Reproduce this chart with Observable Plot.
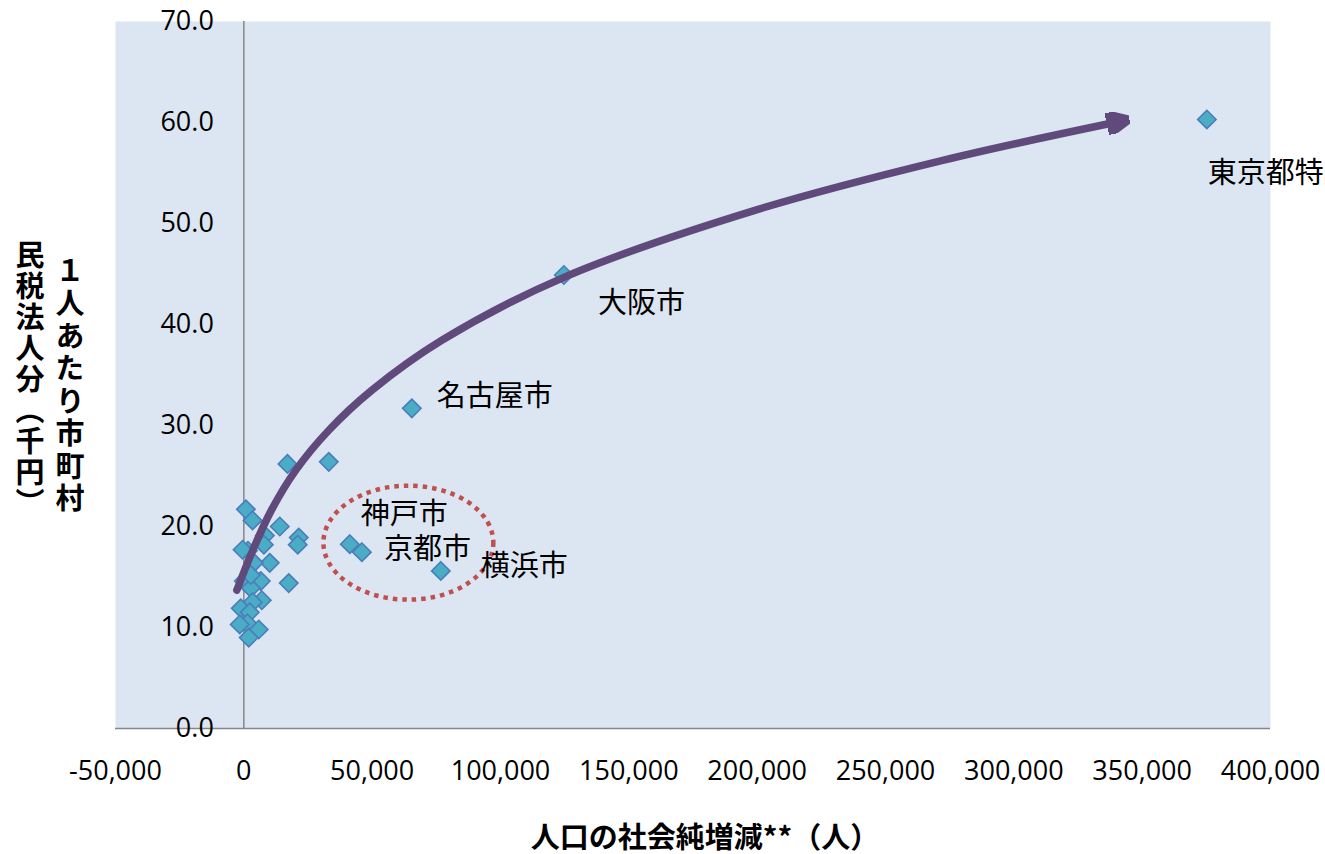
<!DOCTYPE html>
<html>
<head>
<meta charset="utf-8">
<script src="https://cdn.jsdelivr.net/npm/d3@7"></script>
<script src="https://cdn.jsdelivr.net/npm/@observablehq/plot@0.6"></script>
<style>
  html, body { margin: 0; padding: 0; background: #fff; overflow: hidden; }
  #wrap { position: relative; width: 1325px; height: 854px; }
  .ytitle {
    position: absolute;
    writing-mode: vertical-rl;
    text-orientation: mixed;
    font-family: "Noto Sans CJK JP", sans-serif;
    font-weight: 700;
    font-size: 29px;
    line-height: 1;
    color: #000;
    white-space: nowrap;
  }
  .xtitle {
    position: absolute;
    font-family: "Noto Sans CJK JP", sans-serif;
    font-weight: 700;
    font-size: 29px;
    line-height: 1;
    color: #000;
    white-space: nowrap;
    transform: translateX(-50%);
  }
</style>
</head>
<body>
<div id="wrap">
  <div class="ytitle" style="left:55px; top:256px; letter-spacing:3.5px;">１人あたり市町村</div>
  <div class="ytitle" style="left:15px; top:240px; letter-spacing:2px;">民税法人分（千円）</div>
  <div class="xtitle" style="left:705px; top:821px;">人口の社会純増減**（人）</div>
</div>
<script>
// Named cities: net social migration (people) and per-capita municipal corporate tax (thousand yen)
const cityNames = ["東京都特別区", "大阪市", "名古屋市", "神戸市", "京都市", "横浜市"];
const cityMigration = [375200, 124700, 65450, 41300, 46000, 76750];
const cityTax = [60.3, 44.9, 31.7, 18.25, 17.46, 15.6];

// Remaining municipalities
const otherMigration = [17000, 33100, 14000, 21400, 21000, 17500, 10100, 800, 3400, 8200, 7800, 1600, 3900,
  6600, 0, 2700, 7000, 3400, -1200, 2300, 1400, 5800, 1900, -1600, 2700, -500];
const otherTax = [26.2, 26.4, 20.0, 18.9, 18.2, 14.4, 16.4, 21.7, 20.6, 19.1, 18.2, 17.6, 16.4,
  14.6, 14.6, 13.9, 12.7, 12.5, 11.9, 11.5, 10.4, 9.8, 9.0, 10.3, 15.2, 17.7];

// Hand-drawn trend arrow through the cloud (guide points of a smooth spline)
const trendMigration = [-2730, 3510, 10750, 20260, 33120, 49870, 77140, 124700, 199100, 272300, 339300];
const trendTax = [13.70, 17.66, 21.62, 25.58, 29.53, 33.49, 38.44, 44.67, 51.30, 56.25, 60.0];

// Highlight ring around the Kobe / Kyoto group
const ringCenter = [64300, 18.35];
const ringRadius = [33100, 5.64];

// Axis ticks
const xTicks = [-50000, 0, 50000, 100000, 150000, 200000, 250000, 300000, 350000, 400000];
const yTicks = [0, 10, 20, 30, 40, 50, 60, 70];

const points = otherMigration.map((x, i) => ({x, y: otherTax[i]}))
  .concat(cityMigration.map((x, i) => ({x, y: cityTax[i]})));
const cities = cityNames.map((name, i) => ({name, x: cityMigration[i], y: cityTax[i]}));
const trend = trendMigration.map((x, i) => ({x, y: trendTax[i]}));

const labelNudge = {
  "東京都特別区": [1, 54],
  "大阪市": [34, 29],
  "名古屋市": [25, -12],
  "神戸市": [11, -29],
  "京都市": [22, -2],
  "横浜市": [40, -4]
};

const cjk = "'Noto Sans CJK JP', sans-serif";
const num = "'Open Sans', sans-serif";
const axisGray = "#868686";

// Filled triangular arrowhead
const arrowHead = (color) => {
  const m = d3.create("svg:marker")
    .attr("viewBox", "0 -11 23 22")
    .attr("markerUnits", "userSpaceOnUse")
    .attr("markerWidth", 23)
    .attr("markerHeight", 22)
    .attr("refX", 8)
    .attr("refY", 0)
    .attr("orient", "auto");
  m.append("path").attr("d", "M0,-11L23,0L0,11Z").attr("fill", color);
  return m.node();
};

// Dotted ellipse placed in data coordinates
const ring = (index, scales) => {
  const cx = scales.x(ringCenter[0]);
  const cy = scales.y(ringCenter[1]);
  const rx = scales.x(ringCenter[0] + ringRadius[0]) - cx;
  const ry = cy - scales.y(ringCenter[1] + ringRadius[1]);
  return d3.create("svg:ellipse")
    .attr("cx", cx).attr("cy", cy).attr("rx", rx).attr("ry", ry)
    .attr("fill", "none")
    .attr("stroke", "#C0504D")
    .attr("stroke-width", 4.5)
    .attr("stroke-dasharray", "4.5 5")
    .node();
};

const chart = Plot.plot({
  width: 1325,
  height: 854,
  marginLeft: 115,
  marginRight: 55,
  marginTop: 21,
  marginBottom: 126,
  style: {background: "transparent", overflow: "visible"},
  x: {domain: [-50000, 400000], axis: null},
  y: {domain: [0, 70], axis: null},
  marks: [
    Plot.frame({fill: "#DCE6F2", stroke: "none"}),
    Plot.ruleX([0], {stroke: axisGray, strokeWidth: 1.5}),
    Plot.ruleY([0], {stroke: axisGray, strokeWidth: 1.5}),
    Plot.text(yTicks, {
      x: () => 0, y: d => d, text: d => d.toFixed(1),
      textAnchor: "end", dx: -30, fontSize: 27, fontFamily: num, fill: "#000"
    }),
    Plot.text(xTicks, {
      x: d => d, frameAnchor: "bottom", dy: 43, lineAnchor: "middle",
      text: d => d.toLocaleString("en-US"), fontSize: 27, fontFamily: num, fill: "#000"
    }),
    ring,
    Plot.dot(points, {
      x: "x", y: "y", symbol: "diamond2", r: 8.3,
      fill: "#4BACC6", stroke: "#4A7EBB", strokeWidth: 1.6
    }),
    Plot.line(trend, {
      x: "x", y: "y", curve: "catmull-rom",
      stroke: "#604A7B", strokeWidth: 7.5, markerEnd: arrowHead
    }),
    ...cities.map(c => Plot.text([c], {
      x: "x", y: "y", text: "name",
      dx: labelNudge[c.name][0], dy: labelNudge[c.name][1],
      textAnchor: "start", lineAnchor: "middle",
      fontSize: 29, fontFamily: cjk, fill: "#000"
    }))
  ]
});

const wrap = document.getElementById("wrap");
chart.style.position = "absolute";
chart.style.left = "0px";
chart.style.top = "0px";
wrap.insertBefore(chart, wrap.firstChild);
</script>
</body>
</html>
